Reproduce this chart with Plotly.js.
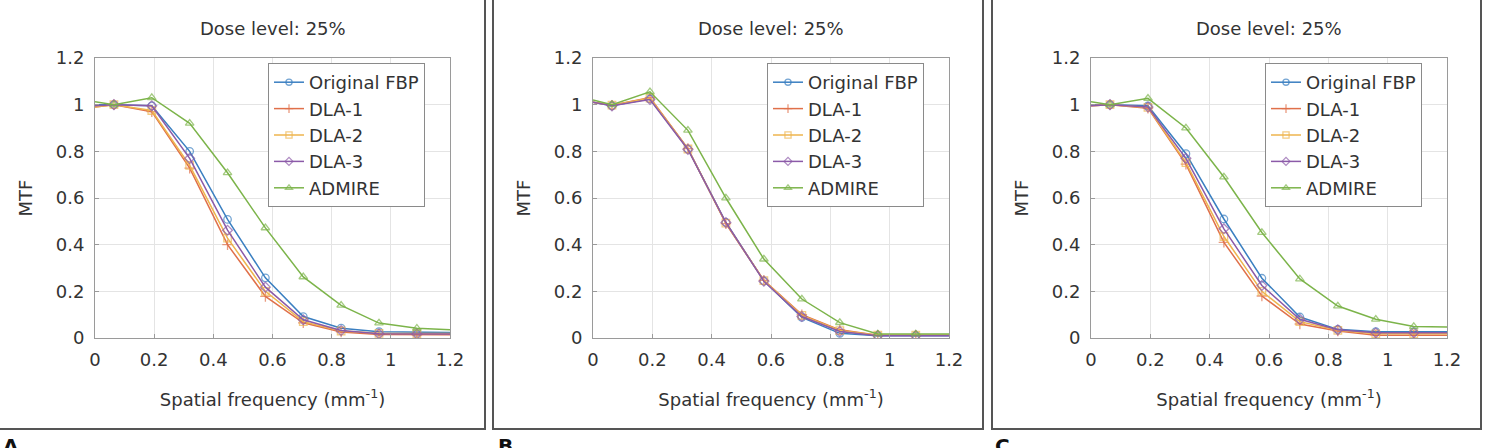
<!DOCTYPE html>
<html>
<head>
<meta charset="utf-8">
<script src="https://cdn.plot.ly/plotly-3.0.1.min.js"></script>
<style>html,body{margin:0;padding:0;background:#fff;}#chart{width:1487px;height:448px;}</style>
</head>
<body>
<div id="chart"></div>
<script>
// Spatial frequency (mm^-1)
const freq = [0, 0.064, 0.192, 0.32, 0.448, 0.576, 0.704, 0.832, 0.96, 1.088, 1.2];
const seriesNames = ["Original FBP", "DLA-1", "DLA-2", "DLA-3", "ADMIRE"];
const panelLabels = ["A", "B", "C"];
const panelTitle = "Dose level: 25%";
const xTitle = "Spatial frequency (mm<sup>-1</sup>)";
const yTitle = "MTF";

// Panel A
const fbpA    = [1.0, 1.0, 0.995, 0.80, 0.508, 0.258, 0.092, 0.042, 0.027, 0.024, 0.024];
const dla1A   = [0.99, 1.0, 0.97, 0.728, 0.40, 0.178, 0.065, 0.026, 0.015, 0.014, 0.014];
const dla2A   = [0.99, 1.0, 0.975, 0.74, 0.428, 0.20, 0.07, 0.03, 0.02, 0.019, 0.019];
const dla3A   = [0.995, 1.0, 0.995, 0.77, 0.462, 0.218, 0.078, 0.032, 0.018, 0.017, 0.017];
const admireA = [1.013, 1.0, 1.03, 0.92, 0.708, 0.472, 0.262, 0.14, 0.064, 0.042, 0.035];

// Panel B
const fbpB    = [1.01, 0.995, 1.025, 0.81, 0.495, 0.245, 0.088, 0.02, 0.01, 0.01, 0.01];
const dla1B   = [1.01, 0.998, 1.03, 0.812, 0.49, 0.247, 0.10, 0.035, 0.012, 0.012, 0.012];
const dla2B   = [1.01, 0.998, 1.028, 0.81, 0.492, 0.246, 0.097, 0.032, 0.012, 0.012, 0.012];
const dla3B   = [1.01, 0.995, 1.022, 0.808, 0.495, 0.243, 0.092, 0.028, 0.01, 0.01, 0.01];
const admireB = [1.02, 1.0, 1.055, 0.89, 0.60, 0.338, 0.167, 0.066, 0.017, 0.017, 0.017];

// Panel C
const fbpC    = [1.0, 1.0, 0.995, 0.79, 0.51, 0.256, 0.09, 0.037, 0.027, 0.027, 0.027];
const dla1C   = [0.995, 1.0, 0.985, 0.745, 0.41, 0.18, 0.06, 0.03, 0.012, 0.012, 0.012];
const dla2C   = [0.995, 1.0, 0.988, 0.752, 0.435, 0.20, 0.07, 0.033, 0.018, 0.018, 0.018];
const dla3C   = [0.995, 1.0, 0.99, 0.77, 0.468, 0.225, 0.08, 0.035, 0.022, 0.022, 0.022];
const admireC = [1.013, 1.0, 1.027, 0.90, 0.69, 0.452, 0.253, 0.137, 0.08, 0.049, 0.047];

const panels = [
  [fbpA, dla1A, dla2A, dla3A, admireA],
  [fbpB, dla1B, dla2B, dla3B, admireB],
  [fbpC, dla1C, dla2C, dla3C, admireC]
];

const colors  = ["#3a7fc1", "#e0704a", "#eeb54e", "#8b5aa8", "#7cb44a"];
const symbols = ["circle-open", "cross-thin-open", "square-open", "diamond-open", "triangle-up-open"];

const W = 1487, H = 448;
const px = v => v / W;
const py = v => 1 - v / H;

// plot-area pixel boxes
const plotX = [[95, 450], [593, 949], [1091, 1447]];
const plotY = [58, 338];
const boxX  = [[-10, 485], [493, 983], [992, 1481]];
const boxBottom = 429;
const labelX = [1, 496, 993];

const font = "DejaVu Sans, Noto Sans, sans-serif";
const txt = "#333333";

const traces = [];
panels.forEach((series, p) => {
  const sfx = p === 0 ? "" : String(p + 1);
  series.forEach((vals, i) => {
    traces.push({
      type: "scatter",
      mode: "lines+markers",
      x: freq,
      y: vals,
      name: seriesNames[i],
      xaxis: "x" + sfx,
      yaxis: "y" + sfx,
      legend: "legend" + sfx,
      line: {color: colors[i], width: 1.5},
      marker: {
        symbol: symbols[i],
        color: colors[i],
        size: freq.map((f, k) => (k === 0 || k === freq.length - 1) ? 0 : 7.5),
        line: {color: colors[i], width: 1.3}
      },
      hoverinfo: "x+y+name"
    });
  });
});

const layout = {
  width: W, height: H,
  margin: {l: 0, r: 0, t: 0, b: 0},
  paper_bgcolor: "#ffffff",
  plot_bgcolor: "#ffffff",
  font: {family: font, size: 18, color: txt},
  showlegend: true,
  annotations: [],
  shapes: []
};

plotX.forEach((xr, p) => {
  const sfx = p === 0 ? "" : String(p + 1);
  const ax = {
    domain: [px(xr[0]), px(xr[1])],
    anchor: "y" + sfx,
    range: [0, 1.2],
    dtick: 0.2, tick0: 0,
    showgrid: true, gridcolor: "#e4e4e4", gridwidth: 1,
    zeroline: false,
    showline: true, linecolor: "#9a9a9a", linewidth: 1, mirror: true,
    ticks: "inside", ticklen: 4, tickcolor: "#9a9a9a",
    ticklabelstandoff: 5,
    tickfont: {family: font, size: 18, color: txt},
    title: {text: xTitle, standoff: 24, font: {family: font, size: 18, color: txt}},
    fixedrange: true
  };
  const ay = {
    domain: [py(plotY[1]), py(plotY[0])],
    anchor: "x" + sfx,
    range: [0, 1.2],
    dtick: 0.2, tick0: 0,
    showgrid: true, gridcolor: "#e4e4e4", gridwidth: 1,
    zeroline: false,
    showline: true, linecolor: "#9a9a9a", linewidth: 1, mirror: true,
    ticks: "inside", ticklen: 4, tickcolor: "#9a9a9a",
    ticklabelstandoff: 6,
    tickfont: {family: font, size: 18, color: txt},
    title: {text: yTitle, standoff: 18, font: {family: font, size: 18, color: txt}},
    fixedrange: true
  };
  layout["xaxis" + sfx] = ax;
  layout["yaxis" + sfx] = ay;

  layout["legend" + sfx] = {
    x: px(xr[1] - 182), y: py(63),
    xanchor: "left", yanchor: "top",
    xref: "paper", yref: "paper",
    bgcolor: "#ffffff", bordercolor: "#8a8a8a", borderwidth: 1,
    font: {family: font, size: 18, color: txt},
    itemwidth: 30,
    tracegroupgap: 0
  };

  layout.annotations.push({
    text: panelTitle, xref: "paper", yref: "paper",
    x: px((xr[0] + xr[1]) / 2), y: py(28),
    xanchor: "center", yanchor: "middle", showarrow: false,
    font: {family: font, size: 18, color: txt}
  });
  layout.annotations.push({
    text: "<b>" + panelLabels[p] + "</b>", xref: "paper", yref: "paper",
    x: px(labelX[p]), y: py(432),
    xanchor: "left", yanchor: "top", showarrow: false,
    font: {family: "DejaVu Sans, sans-serif", size: 20, color: "#111"}
  });

  layout.shapes.push({
    type: "rect", xref: "paper", yref: "paper",
    x0: px(boxX[p][0]), x1: px(boxX[p][1]),
    y0: py(boxBottom), y1: py(-10),
    line: {color: "#555555", width: 2},
    fillcolor: "rgba(0,0,0,0)",
    layer: "below"
  });
});

Plotly.newPlot("chart", traces, layout, {displayModeBar: false, staticPlot: true});
</script>
</body>
</html>
